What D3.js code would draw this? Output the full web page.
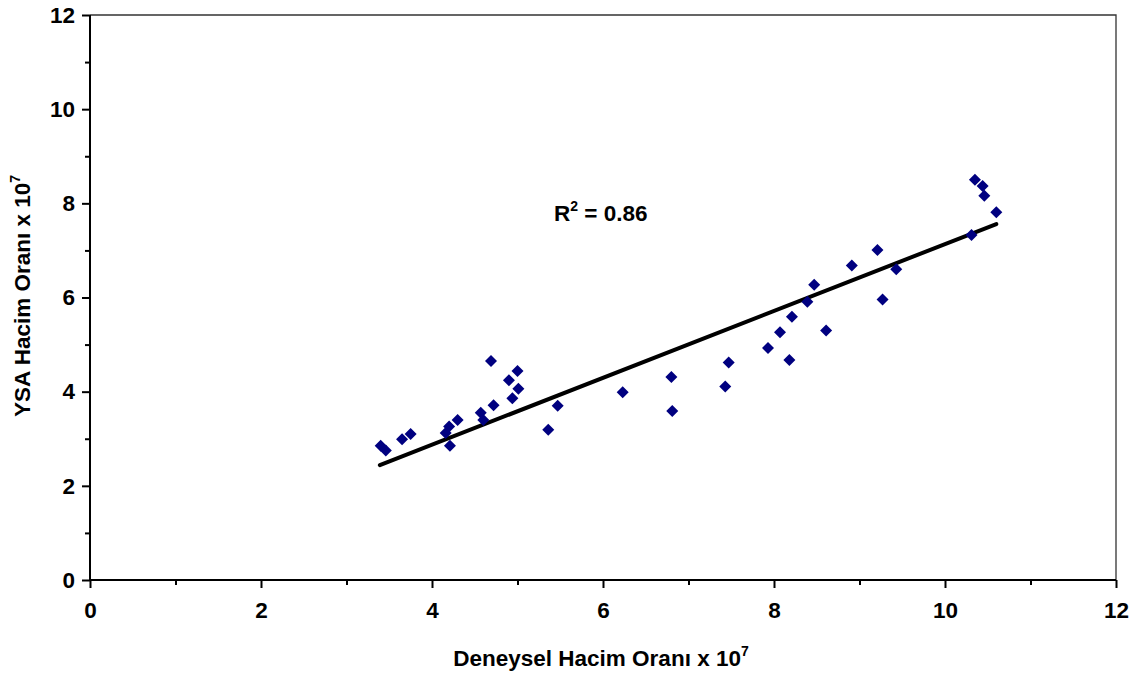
<!DOCTYPE html>
<html>
<head>
<meta charset="utf-8">
<script src="https://cdn.jsdelivr.net/npm/d3@7"></script>
<style>
  body { margin: 0; background: #fff; }
  svg { display: block; font-family: "Liberation Sans", Arial, sans-serif; }
</style>
</head>
<body>
<svg id="chart" width="1136" height="675"></svg>
<script>
// Experimental (x) vs ANN (y) volume ratios (x 10^7)
const expValues = [3.40, 3.46, 3.65, 3.75, 4.16, 4.20, 4.21, 4.30, 4.57, 4.60, 4.69, 4.72, 4.90, 4.94, 5.00, 5.01,
  5.36, 5.47, 6.23, 6.80, 6.81, 7.43, 7.47, 7.93, 8.07, 8.18, 8.21, 8.39, 8.47, 8.61, 8.91, 9.21, 9.27, 9.43,
  10.31, 10.35, 10.44, 10.46, 10.60];
const ysaValues = [2.85, 2.75, 2.99, 3.10, 3.12, 3.26, 2.85, 3.40, 3.55, 3.40, 4.65, 3.71, 4.24, 3.86, 4.44, 4.06,
  3.19, 3.70, 3.99, 4.31, 3.59, 4.11, 4.62, 4.93, 5.26, 4.67, 5.59, 5.91, 6.27, 5.30, 6.68, 7.01, 5.96, 6.60,
  7.33, 8.50, 8.37, 8.16, 7.81];
const trendX = [3.39, 10.60];
const trendY = [2.44, 7.56];
const xTicks = [0, 2, 4, 6, 8, 10, 12];
const yTicks = [0, 2, 4, 6, 8, 10, 12];
const minorTicks = [1, 3, 5, 7, 9, 11];
const r2Label = "0.86";

(function () {
const svg = d3.select("#chart");
const pL = 90, pR = 1116, pT = 15, pB = 580;
const FS = 22.5, SUP = 14;
const x = d3.scaleLinear().domain([0, 12]).range([pL, pR]);
const y = d3.scaleLinear().domain([0, 12]).range([pB, pT]);

// plot border (top/right)
svg.append("path")
  .attr("d", `M${pL},${pT}H${pR}V${pB}`)
  .attr("fill", "none").attr("stroke", "#333").attr("stroke-width", 1.3);

// X axis
const gx = svg.append("g").attr("transform", `translate(0,${pB})`);
gx.call(d3.axisBottom(x).tickValues(xTicks).tickSize(8).tickFormat(d3.format("d")));
gx.append("g").call(d3.axisBottom(x).tickValues(minorTicks).tickSize(5).tickFormat(""));
gx.selectAll(".domain").attr("stroke", "#000").attr("stroke-width", 2).attr("d", `M${pL},0H${pR}`);
gx.selectAll(".tick line").attr("stroke", "#000").attr("stroke-width", 2);
gx.selectAll(".tick text").style("font-size", FS + "px").attr("font-weight", "bold").attr("fill", "#000")
  .style("font-family", '"Liberation Sans", Arial, sans-serif')
  .attr("y", 22).attr("dy", "0.71em");

// Y axis
const gy = svg.append("g").attr("transform", `translate(${pL},0)`);
gy.call(d3.axisLeft(y).tickValues(yTicks).tickSize(8).tickFormat(d3.format("d")));
gy.append("g").call(d3.axisLeft(y).tickValues(minorTicks).tickSize(5).tickFormat(""));
gy.selectAll(".domain").attr("stroke", "#000").attr("stroke-width", 2).attr("d", `M0,${pT}V${pB}`);
gy.selectAll(".tick line").attr("stroke", "#000").attr("stroke-width", 2);
gy.selectAll(".tick text").style("font-size", FS + "px").attr("font-weight", "bold").attr("fill", "#000")
  .style("font-family", '"Liberation Sans", Arial, sans-serif')
  .attr("x", -15);

// Trend line
svg.append("line")
  .attr("x1", x(trendX[0])).attr("y1", y(trendY[0]))
  .attr("x2", x(trendX[1])).attr("y2", y(trendY[1]))
  .attr("stroke", "#000").attr("stroke-width", 4).attr("stroke-linecap", "round");

// Points (diamonds)
const pts = expValues.map((v, i) => [v, ysaValues[i]]);
svg.append("g").selectAll("path").data(pts).join("path")
  .attr("transform", d => `translate(${x(d[0])},${y(d[1])})`)
  .attr("d", "M0,-6L6,0L0,6L-6,0Z")
  .attr("fill", "#000080");

// R2 label
const r2 = svg.append("text").attr("x", 554).attr("y", 221)
  .style("font-size", FS + "px").attr("font-weight", "bold").attr("fill", "#000");
r2.append("tspan").text("R");
r2.append("tspan").text("2").style("font-size", SUP + "px").attr("dy", -10);
r2.append("tspan").text(" = " + r2Label).attr("dy", 10);

// X title
const xt = svg.append("text").attr("x", 601).attr("y", 666).attr("text-anchor", "middle")
  .style("font-size", FS + "px").attr("font-weight", "bold").attr("fill", "#000");
xt.append("tspan").text("Deneysel Hacim Oranı x 10");
xt.append("tspan").text("7").style("font-size", SUP + "px").attr("dy", -10);

// Y title
const yt = svg.append("text").attr("transform", "translate(30,296) rotate(-90)")
  .attr("text-anchor", "middle")
  .style("font-size", FS + "px").attr("font-weight", "bold").attr("fill", "#000");
yt.append("tspan").text("YSA Hacim Oranı x 10");
yt.append("tspan").text("7").style("font-size", SUP + "px").attr("dy", -10);
})();
</script>
</body>
</html>
